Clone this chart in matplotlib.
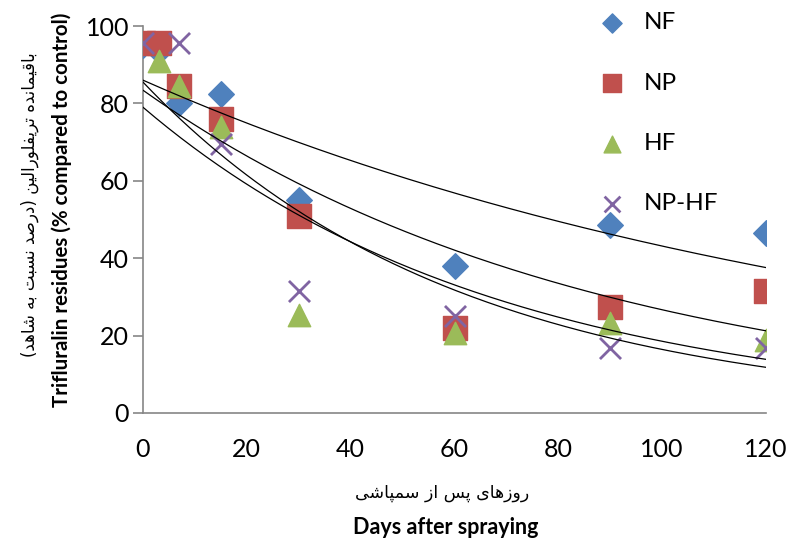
import numpy as np
import matplotlib
matplotlib.use('Agg')
import matplotlib.pyplot as plt

# values
days_nf = [0, 3, 7, 15, 30, 60, 90, 120]
nf = [95, 93.5, 80, 82.5, 55, 38, 48.5, 46.5]
days_np = [0, 3, 7, 15, 30, 60, 90, 120]
np_vals = [95.5, 95.5, 84.5, 76, 51, 22, 27.3, 31.4]
days_hf = [3, 7, 15, 30, 60, 90, 120]
hf = [91, 84.5, 74, 25.4, 20.8, 23.2, 18.8]
days_nphf = [0, 7, 15, 30, 60, 90, 120]
nphf = [95.5, 95.5, 69.5, 31.5, 25, 16.8, 16.8]

# exponential trend lines y = a*exp(-b*x)
trend_a = [86, 83.4, 85.5, 79]
trend_b = [0.0069, 0.0114, 0.0165, 0.0145]

# persian text: matplotlib does no shaping, so pick presentation forms by hand
forms = {
    'ا': ('\ufe8d', '\ufe8e', None, None),
    'ب': ('\ufe8f', '\ufe90', '\ufe91', '\ufe92'),
    'پ': ('\ufb56', '\ufb57', '\ufb58', '\ufb59'),
    'ت': ('\ufe95', '\ufe96', '\ufe97', '\ufe98'),
    'د': ('\ufea9', '\ufeaa', None, None),
    'ر': ('\ufead', '\ufeae', None, None),
    'ز': ('\ufeaf', '\ufeb0', None, None),
    'س': ('\ufeb1', '\ufeb2', '\ufeb3', '\ufeb4'),
    'ش': ('\ufeb5', '\ufeb6', '\ufeb7', '\ufeb8'),
    'ص': ('\ufeb9', '\ufeba', '\ufebb', '\ufebc'),
    'ف': ('\ufed1', '\ufed2', '\ufed3', '\ufed4'),
    'ق': ('\ufed5', '\ufed6', '\ufed7', '\ufed8'),
    'ل': ('\ufedd', '\ufede', '\ufedf', '\ufee0'),
    'م': ('\ufee1', '\ufee2', '\ufee3', '\ufee4'),
    'ن': ('\ufee5', '\ufee6', '\ufee7', '\ufee8'),
    'ه': ('\ufee9', '\ufeea', '\ufeeb', '\ufeec'),
    'و': ('\ufeed', '\ufeee', None, None),
    'ی': ('\ufeef', '\ufef0', '\ufef3', '\ufef4'),
}


def shape(txt):
    out = []
    for i, c in enumerate(txt):
        if c not in forms:
            out.append(c)
            continue
        prev = txt[i - 1] if i > 0 else ''
        nxt = txt[i + 1] if i + 1 < len(txt) else ''
        joins_prev = prev in forms and forms[prev][2] is not None
        joins_next = forms[c][2] is not None and nxt in forms
        iso, fin, ini, med = forms[c]
        if joins_prev and joins_next:
            out.append(med)
        elif joins_prev:
            out.append(fin)
        elif joins_next:
            out.append(ini)
        else:
            out.append(iso)
    vis = ''.join(reversed(out))
    return vis.translate(str.maketrans('()', ')('))


fa_y = shape('باقیمانده تریفلورالین (درصد نسبت به شاهد)')
fa_x = shape('روزهای پس از سمپاشی')

plt.rcParams['font.family'] = ['Lato', 'DejaVu Sans']

fig = plt.figure(figsize=(7.94, 5.43), dpi=100)
ax = fig.add_axes((143 / 794, 1 - 413 / 543, 623 / 794, 387 / 543))

ax.scatter(days_nf, nf, marker='D', s=170, color='#4f81bd', label='NF', zorder=3)
ax.scatter(days_np, np_vals, marker='s', s=280, color='#c0504d', label='NP', zorder=4)
ax.scatter(days_hf, hf, marker='^', s=260, color='#9bbb59', label='HF', zorder=5)
ax.scatter(days_nphf, nphf, marker='x', s=230, color='#8064a2', linewidths=2,
           label='NP-HF', zorder=6)

xx = np.linspace(0, 120, 200)
for a, b in zip(trend_a, trend_b):
    ax.plot(xx, a * np.exp(-b * xx), color='black', lw=0.9, zorder=7)

ax.set_xlim(0, 120)
ax.set_ylim(0, 100)
ax.set_xticks(range(0, 121, 20))
ax.set_yticks(range(0, 101, 20))
for s in ['top', 'right']:
    ax.spines[s].set_visible(False)
for s in ['left', 'bottom']:
    ax.spines[s].set_color('#868686')
    ax.spines[s].set_linewidth(1.2)
ax.tick_params(axis='y', direction='out', length=7, width=1.2, color='#868686',
               labelsize=18, pad=3)
ax.tick_params(axis='x', length=0, labelsize=18, pad=18)

ax.legend(loc='upper left', bbox_to_anchor=(576 / 794, 1.0),
          bbox_transform=fig.transFigure, frameon=False, fontsize=17.5,
          labelspacing=1.62, handletextpad=0.3, borderpad=0.0,
          scatterpoints=1, markerscale=0.75)

fig.text(30 / 794, 1 - 205 / 543, fa_y, rotation=90, ha='center', va='center',
         fontsize=12, family='DejaVu Sans')
fig.text(62 / 794, 1 - 210 / 543, 'Trifluralin residues (% compared to control)',
         rotation=90, ha='center', va='center', fontsize=14.8, fontweight='bold')
fig.text(442 / 794, 1 - 493 / 543, fa_x, ha='center', va='center',
         fontsize=12.5, family='DejaVu Sans')
fig.text(446 / 794, 1 - 527 / 543, 'Days after spraying', ha='center',
         va='center', fontsize=15.5, fontweight='bold')

fig.savefig('out.png', dpi=100)
